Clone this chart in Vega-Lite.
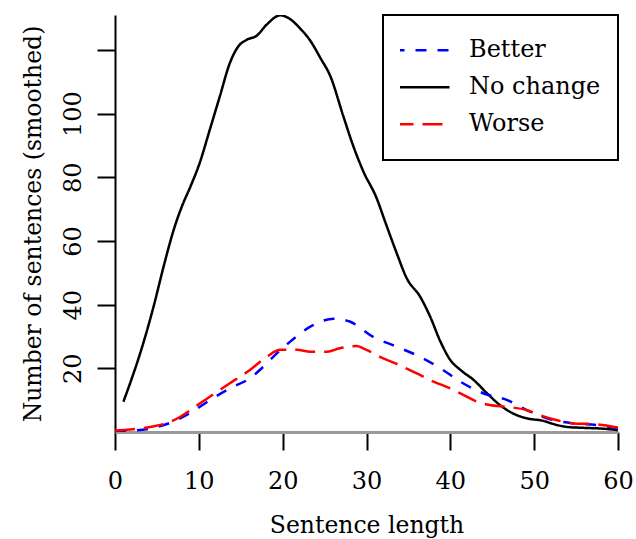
{
  "$schema": "https://vega.github.io/schema/vega-lite/v6.json",
  "width": 503,
  "height": 417,
  "autosize": {"type": "none"},
  "padding": {"left": 115, "top": 15, "right": 18, "bottom": 107},
  "background": "white",
  "config": {
    "view": {"stroke": null},
    "font": "DejaVu Serif",
    "axis": {
      "labelFont": "DejaVu Serif",
      "titleFont": "DejaVu Serif",
      "labelFontSize": 24,
      "titleFontSize": 23.5,
      "titleFontWeight": "normal",
      "labelColor": "black",
      "titleColor": "black",
      "tickColor": "black",
      "tickWidth": 2,
      "tickSize": 18,
      "grid": false
    },
    "legend": {
      "labelFont": "DejaVu Serif",
      "labelFontSize": 24,
      "labelColor": "black",
      "strokeWidth": 2
    }
  },
  "data": {
    "values": [
      {"x": 1.0, "y": 9.5, "s": "No change"},
      {"x": 2.0, "y": 16.8, "s": "No change"},
      {"x": 3.0, "y": 24.7, "s": "No change"},
      {"x": 4.6, "y": 39.4, "s": "No change"},
      {"x": 5.8, "y": 52, "s": "No change"},
      {"x": 7.0, "y": 63.5, "s": "No change"},
      {"x": 8.0, "y": 71, "s": "No change"},
      {"x": 9.0, "y": 77.1, "s": "No change"},
      {"x": 10.1, "y": 84.5, "s": "No change"},
      {"x": 11.3, "y": 94.9, "s": "No change"},
      {"x": 12.5, "y": 105.4, "s": "No change"},
      {"x": 13.7, "y": 115.9, "s": "No change"},
      {"x": 14.7, "y": 121.1, "s": "No change"},
      {"x": 15.7, "y": 123.2, "s": "No change"},
      {"x": 16.9, "y": 124.5, "s": "No change"},
      {"x": 18.1, "y": 128, "s": "No change"},
      {"x": 19.7, "y": 130.9, "s": "No change"},
      {"x": 21.0, "y": 129.5, "s": "No change"},
      {"x": 22.0, "y": 127, "s": "No change"},
      {"x": 23.3, "y": 122.9, "s": "No change"},
      {"x": 24.5, "y": 117.5, "s": "No change"},
      {"x": 25.7, "y": 111.7, "s": "No change"},
      {"x": 27.2, "y": 99.5, "s": "No change"},
      {"x": 28.4, "y": 90, "s": "No change"},
      {"x": 29.6, "y": 82, "s": "No change"},
      {"x": 31.2, "y": 73.5, "s": "No change"},
      {"x": 32.3, "y": 65.5, "s": "No change"},
      {"x": 33.6, "y": 56.2, "s": "No change"},
      {"x": 34.8, "y": 48.3, "s": "No change"},
      {"x": 36.4, "y": 42.5, "s": "No change"},
      {"x": 37.6, "y": 36.2, "s": "No change"},
      {"x": 38.8, "y": 28.5, "s": "No change"},
      {"x": 40.0, "y": 22.6, "s": "No change"},
      {"x": 41.2, "y": 19.5, "s": "No change"},
      {"x": 42.8, "y": 16.3, "s": "No change"},
      {"x": 44.4, "y": 12.1, "s": "No change"},
      {"x": 45.9, "y": 8.5, "s": "No change"},
      {"x": 47.5, "y": 5.8, "s": "No change"},
      {"x": 49.1, "y": 4.3, "s": "No change"},
      {"x": 51.1, "y": 3.5, "s": "No change"},
      {"x": 52.3, "y": 2.5, "s": "No change"},
      {"x": 53.9, "y": 1.6, "s": "No change"},
      {"x": 55.9, "y": 1.3, "s": "No change"},
      {"x": 57.9, "y": 1.1, "s": "No change"},
      {"x": 60.0, "y": 0.6, "s": "No change"},

      {"x": 0.0, "y": 0.2, "s": "Better"},
      {"x": 1.8, "y": 0.4, "s": "Better"},
      {"x": 4.2, "y": 1.1, "s": "Better"},
      {"x": 6.6, "y": 2.9, "s": "Better"},
      {"x": 9.0, "y": 6.0, "s": "Better"},
      {"x": 11.3, "y": 10, "s": "Better"},
      {"x": 13.7, "y": 13.7, "s": "Better"},
      {"x": 16.1, "y": 16.9, "s": "Better"},
      {"x": 17.7, "y": 20.5, "s": "Better"},
      {"x": 19.3, "y": 24.7, "s": "Better"},
      {"x": 20.9, "y": 28.4, "s": "Better"},
      {"x": 23.3, "y": 33.1, "s": "Better"},
      {"x": 26.1, "y": 35.6, "s": "Better"},
      {"x": 28.0, "y": 34.7, "s": "Better"},
      {"x": 30.8, "y": 29.9, "s": "Better"},
      {"x": 33.6, "y": 26.8, "s": "Better"},
      {"x": 36.4, "y": 23.6, "s": "Better"},
      {"x": 39.0, "y": 19.7, "s": "Better"},
      {"x": 41.2, "y": 15.8, "s": "Better"},
      {"x": 44.0, "y": 12.1, "s": "Better"},
      {"x": 46.8, "y": 10, "s": "Better"},
      {"x": 49.1, "y": 6.9, "s": "Better"},
      {"x": 51.9, "y": 4, "s": "Better"},
      {"x": 54.7, "y": 2.7, "s": "Better"},
      {"x": 57.5, "y": 2.2, "s": "Better"},
      {"x": 60.0, "y": 1.1, "s": "Better"},

      {"x": 0.0, "y": 0.5, "s": "Worse"},
      {"x": 1.8, "y": 0.8, "s": "Worse"},
      {"x": 4.2, "y": 1.6, "s": "Worse"},
      {"x": 6.6, "y": 3.2, "s": "Worse"},
      {"x": 7.8, "y": 4.8, "s": "Worse"},
      {"x": 9.0, "y": 6.9, "s": "Worse"},
      {"x": 11.3, "y": 11.1, "s": "Worse"},
      {"x": 13.7, "y": 15.3, "s": "Worse"},
      {"x": 16.1, "y": 19.5, "s": "Worse"},
      {"x": 18.1, "y": 23.6, "s": "Worse"},
      {"x": 19.7, "y": 25.8, "s": "Worse"},
      {"x": 21.7, "y": 25.8, "s": "Worse"},
      {"x": 23.3, "y": 25.2, "s": "Worse"},
      {"x": 25.3, "y": 25.2, "s": "Worse"},
      {"x": 26.8, "y": 26.3, "s": "Worse"},
      {"x": 28.8, "y": 27, "s": "Worse"},
      {"x": 30.0, "y": 25.8, "s": "Worse"},
      {"x": 31.6, "y": 23.6, "s": "Worse"},
      {"x": 33.6, "y": 21.4, "s": "Worse"},
      {"x": 36.0, "y": 18.4, "s": "Worse"},
      {"x": 38.0, "y": 15.8, "s": "Worse"},
      {"x": 40.0, "y": 13.7, "s": "Worse"},
      {"x": 41.6, "y": 11.6, "s": "Worse"},
      {"x": 43.2, "y": 9.5, "s": "Worse"},
      {"x": 44.7, "y": 8.5, "s": "Worse"},
      {"x": 46.8, "y": 7.9, "s": "Worse"},
      {"x": 49.1, "y": 6.9, "s": "Worse"},
      {"x": 50.7, "y": 5.3, "s": "Worse"},
      {"x": 52.3, "y": 4, "s": "Worse"},
      {"x": 54.7, "y": 2.7, "s": "Worse"},
      {"x": 57.1, "y": 2.5, "s": "Worse"},
      {"x": 60.0, "y": 1.4, "s": "Worse"}
    ]
  },
  "mark": {"type": "line", "interpolate": "monotone", "strokeWidth": 2.5, "clip": true},
  "encoding": {
    "x": {
      "field": "x",
      "type": "quantitative",
      "scale": {"domain": [0, 60], "nice": false, "zero": false},
      "axis": {
        "values": [0, 10, 20, 30, 40, 50, 60],
        "title": "Sentence length",
        "domainColor": "#9a9a9a",
        "domainWidth": 3,
        "labelPadding": 19,
        "titlePadding": 20,
        "labelFlush": false
      }
    },
    "y": {
      "field": "y",
      "type": "quantitative",
      "scale": {"domain": [0, 131], "nice": false, "zero": false},
      "axis": {
        "values": [20, 40, 60, 80, 100, 120],
        "labelExpr": "datum.value == 120 ? '' : datum.label",
        "title": "Number of sentences (smoothed)",
        "domainColor": "black",
        "domainWidth": 2,
        "labelAngle": -90,
        "labelAlign": "center",
        "labelBaseline": "alphabetic",
        "labelPadding": 17,
        "titlePadding": 16,
        "labelFlush": false
      }
    },
    "color": {
      "field": "s",
      "type": "nominal",
      "scale": {"domain": ["Better", "No change", "Worse"], "range": ["#0000ff", "#000000", "#ff0000"]},
      "legend": {
        "title": null,
        "orient": "top-right",
        "offset": 0,
        "padding": 17,
        "strokeColor": "black",
        "fillColor": "white",
        "cornerRadius": 0,
        "symbolType": "stroke",
        "symbolSize": 3136,
        "symbolOffset": -8,
        "symbolStrokeWidth": 2.5,
        "labelOffset": 18,
        "clipHeight": 36.7,
        "rowPadding": 0,
        "labelLimit": 300
      }
    },
    "strokeDash": {
      "field": "s",
      "type": "nominal",
      "scale": {"domain": ["Better", "No change", "Worse"], "range": [[11, 11], [1, 0], [20, 9]]},
      "legend": {
        "title": null
      }
    }
  }
}
